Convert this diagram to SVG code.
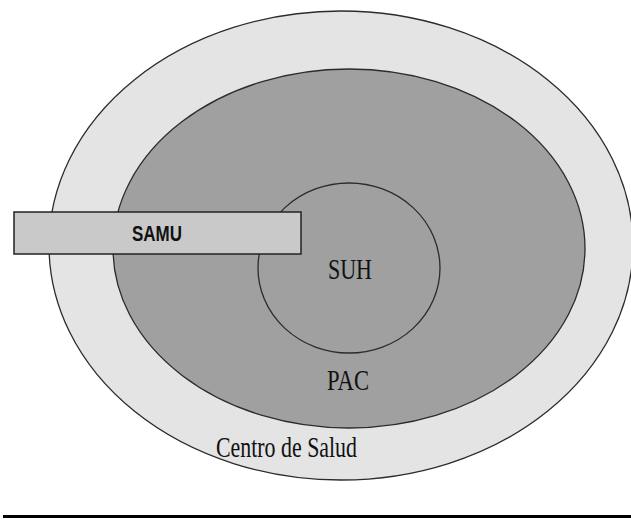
<svg xmlns="http://www.w3.org/2000/svg" width="631" height="519" viewBox="0 0 631 519">
  <style>
    .ring { stroke: #2b2b2b; stroke-width: 1.3; }
    .serif { font-family: "Liberation Serif", "Times New Roman", serif; font-size: 30px; fill: #111; }
    .sans { font-family: "Liberation Sans", Arial, sans-serif; font-weight: bold; font-size: 22px; fill: #111; }
  </style>
  <rect x="0" y="0" width="631" height="519" fill="#ffffff"/>

  <g id="centro-de-salud">
    <ellipse class="ring" cx="341" cy="245.5" rx="292" ry="234.5" fill="#e4e4e4"/>
    <text class="serif" x="216" y="457" textLength="141" lengthAdjust="spacingAndGlyphs">Centro de Salud</text>
  </g>

  <g id="pac">
    <ellipse class="ring" cx="349" cy="248.5" rx="236" ry="179.5" fill="#a0a0a0"/>
    <text class="serif" x="327" y="390" textLength="42" lengthAdjust="spacingAndGlyphs">PAC</text>
  </g>

  <g id="suh">
    <ellipse class="ring" cx="349" cy="268" rx="91" ry="85" fill="#a0a0a0"/>
    <text class="serif" x="328" y="279" textLength="44" lengthAdjust="spacingAndGlyphs">SUH</text>
  </g>

  <g id="samu">
    <rect x="14" y="212" width="287" height="42" fill="#c9c9c9" stroke="#222" stroke-width="1.5"/>
    <text class="sans" x="132" y="241" textLength="50" lengthAdjust="spacingAndGlyphs">SAMU</text>
  </g>

  <g id="connectors"/>

  <!-- page rule under the figure -->
  <line x1="3" y1="516.5" x2="631" y2="516.5" stroke="#000" stroke-width="3"/>
</svg>
